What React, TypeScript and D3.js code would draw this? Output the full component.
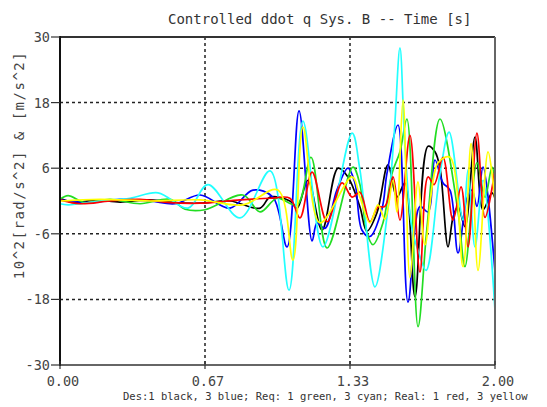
import React from 'react';
import * as d3 from 'd3';

const W = 547;
const H = 407;

const titleText = 'Controlled ddot q Sys. B -- Time [s]';
const yLabelText = '10^2[rad/s^2] & [m/s^2]';
const legendText = 'Des:1 black, 3 blue; Req: 1 green, 3 cyan; Real: 1 red, 3 yellow';

const xTickValues = [0, 2 / 3, 4 / 3, 2];
const xTickLabels = ['0.00', '0.67', '1.33', '2.00'];
const yTickValues = [30, 18, 6, -6, -18, -30];
const yGridValues = [18, 6, -6, -18];

// Des 1 (black)
const blackT = [0, 0.069, 0.161, 0.276, 0.414, 0.529, 0.644, 0.782, 0.92, 0.966, 1.057, 1.09, 1.14, 1.205, 1.278, 1.324, 1.379, 1.411, 1.457, 1.508, 1.549, 1.586, 1.632, 1.692, 1.724, 1.747, 1.784, 1.807, 1.83, 1.862, 1.908, 1.945, 1.986, 2];
const blackV = [0.5, -0.3, 0.2, -0.2, 0.2, -0.3, -0.4, 0, -1.3, 0.7, 0, -1.3, 3.8, -5.3, 6, 4.4, -1.1, -5.5, -2.2, 6.6, 0.7, 3.3, -17.5, 10, 9, 6, -8.4, -3, -1, -4.7, 11.7, -1.6, 1.5, 0.5];

// Des 3 (blue)
const blueT = [0, 0.138, 0.276, 0.414, 0.529, 0.644, 0.782, 0.887, 0.979, 1.044, 1.099, 1.159, 1.182, 1.218, 1.273, 1.324, 1.356, 1.388, 1.425, 1.48, 1.503, 1.554, 1.6, 1.655, 1.692, 1.724, 1.761, 1.793, 1.83, 1.871, 1.894, 1.917, 1.945, 2];
const blueV = [0.2, -0.3, 0.3, 0, -0.5, 1.1, -1.3, 2, 0.7, -8.4, 16.5, -7.3, -4, -5, 2, 6, 3.3, -5.3, -6.5, -1.5, 5, 13.9, -18.5, -1, -2, 7.5, 3.3, 2, -9.5, 0.5, 2, -1, 6.2, -13];

// Req 1 (green)
const greenT = [0, 0.037, 0.115, 0.23, 0.368, 0.506, 0.575, 0.667, 0.841, 0.92, 0.998, 1.09, 1.154, 1.228, 1.347, 1.379, 1.411, 1.439, 1.485, 1.526, 1.563, 1.595, 1.646, 1.687, 1.747, 1.83, 1.862, 1.917, 1.954, 1.986, 2];
const greenV = [0.3, 1, -0.3, 0.3, -0.5, 0.3, -1.5, -1.6, 1.1, -2, 0.5, -0.7, 8, -8.6, 6.2, 3, -5.8, -8, -4, 5, 9, 15, -23, -5, 15, -2, -12, 7, 0.7, 6.2, 4];

// Req 3 (cyan)
const cyanT = [0, 0.037, 0.184, 0.322, 0.451, 0.589, 0.68, 0.828, 0.966, 1.053, 1.117, 1.209, 1.343, 1.379, 1.448, 1.503, 1.536, 1.563, 1.586, 1.618, 1.646, 1.683, 1.747, 1.789, 1.853, 1.876, 1.908, 1.945, 2];
const cyanV = [-0.5, -0.7, 0, 0.5, 1.5, -1.3, 3, -3.1, 5.5, -16.3, 14.6, -8.4, 12.4, 5.7, -15.7, -3, 12, 28, 10, -5, -9, -12.7, 5, 12.6, -3.5, 5.7, -8.4, 3.8, -20];

// Real 1 (red)
const redT = [0, 0.092, 0.23, 0.368, 0.506, 0.644, 0.828, 0.966, 1.057, 1.103, 1.159, 1.228, 1.297, 1.343, 1.379, 1.425, 1.462, 1.494, 1.531, 1.563, 1.609, 1.655, 1.692, 1.72, 1.761, 1.807, 1.844, 1.876, 1.917, 1.954, 2];
const redV = [0.2, -0.5, 0, 0.3, -0.3, -0.4, 0.2, 0.5, 0.5, -3.1, 5.3, -3.8, 3.3, 0.7, 1.6, -3.8, -1.1, -1, 4.4, -3.5, 12, -13, 4.4, 3, 8, -3.5, 2.6, -8.4, 12.4, -3, 5.7];

// Real 3 (yellow)
const yellowT = [0, 0.184, 0.414, 0.644, 0.841, 1.002, 1.071, 1.117, 1.195, 1.343, 1.379, 1.425, 1.462, 1.494, 1.531, 1.549, 1.577, 1.609, 1.646, 1.678, 1.738, 1.793, 1.853, 1.89, 1.922, 1.968, 2];
const yellowV = [0, 0.3, 0, 0.2, -0.7, 2, -10.8, 13.5, -4, 4.4, 0.7, -4, -0.7, -3.3, 3.8, -2, 18.5, -14, 3.5, -8, 7, 8, -12, 10.5, -12.7, 9, 0];

const seriesList = [
  { name: 'black', color: '#000000', t: blackT, v: blackV },
  { name: 'blue', color: '#0000ff', t: blueT, v: blueV },
  { name: 'green', color: '#22dd22', t: greenT, v: greenV },
  { name: 'cyan', color: '#22ffff', t: cyanT, v: cyanV },
  { name: 'red', color: '#ff0000', t: redT, v: redV },
  { name: 'yellow', color: '#ffff00', t: yellowT, v: yellowV },
];

const L = 60, R = 495, T = 37, B = 365;
const FONT = '"DejaVu Sans Mono", "Liberation Mono", monospace';

export default function App() {
  const x = d3.scaleLinear().domain([0, 2]).range([L, R]);
  const y = d3.scaleLinear().domain([-30, 30]).range([B, T]);
  const line = d3
    .line<[number, number]>()
    .x((d) => x(d[0]))
    .y((d) => y(d[1]))
    .curve(d3.curveCatmullRom.alpha(0.5));

  return (
    <svg
      width={W}
      height={H}
      style={{ position: 'absolute', left: 0, top: 0, background: '#fff', display: 'block' }}
    >
      <defs>
        <clipPath id="plotClip">
          <rect x={L} y={T} width={R - L} height={B - T} />
        </clipPath>
      </defs>
      <rect x={0} y={0} width={W} height={H} fill="#fff" />

      {/* grid */}
      {yGridValues.map((v) => (
        <line key={'gy' + v} x1={L} x2={R} y1={y(v)} y2={y(v)} stroke="#222" strokeWidth={1.5} strokeDasharray="3,3" />
      ))}
      {xTickValues.slice(1, 3).map((v, i) => (
        <line key={'gx' + i} x1={x(v)} x2={x(v)} y1={T} y2={B} stroke="#222" strokeWidth={1.5} strokeDasharray="3,3" />
      ))}

      {/* series */}
      <g clipPath="url(#plotClip)">
        {seriesList.map((s) => (
          <path
            key={s.name}
            d={line(s.t.map((t, i) => [t, s.v[i]] as [number, number])) || ''}
            fill="none"
            stroke={s.color}
            strokeWidth={1.7}
            strokeLinejoin="round"
          />
        ))}
      </g>

      {/* frame */}
      <line x1={L} x2={R} y1={T} y2={T} stroke="#333" strokeWidth={2} />
      <line x1={R} x2={R} y1={T} y2={B} stroke="#666" strokeWidth={2} />
      <line x1={L} x2={R} y1={B} y2={B} stroke="#333" strokeWidth={1.5} />
      <line x1={L} x2={L} y1={T - 1} y2={B + 1} stroke="#111" strokeWidth={2} />

      {/* y ticks */}
      {yTickValues.map((v) => (
        <g key={'yt' + v}>
          <line x1={L - 9} x2={L} y1={y(v)} y2={y(v)} stroke="#333" strokeWidth={1.2} />
          <text x={L - 10} y={y(v) + 5} textAnchor="end" fontFamily={FONT} fontSize={13.5} fill="#444">
            {v}
          </text>
        </g>
      ))}

      {/* x ticks */}
      {xTickValues.map((v, i) => (
        <g key={'xt' + i}>
          <line x1={x(v)} x2={x(v)} y1={B - 4} y2={B + 4} stroke="#333" strokeWidth={1.2} />
          <text x={x(v) + 3} y={386} textAnchor="middle" fontFamily={FONT} fontSize={13.5} fill="#444">
            {xTickLabels[i]}
          </text>
        </g>
      ))}

      {/* title */}
      <text x={168} y={24} fontFamily={FONT} fontSize={14} fill="#333">
        {titleText}
      </text>

      {/* y label */}
      <text
        transform={`translate(24, 165) rotate(-90)`}
        textAnchor="middle"
        fontFamily={FONT}
        fontSize={14}
        letterSpacing={1.5}
        fill="#444"
      >
        {yLabelText}
      </text>

      {/* legend */}
      <text x={123} y={400} fontFamily={FONT} fontSize={10.5} fill="#333">
        {legendText}
      </text>
    </svg>
  );
}
